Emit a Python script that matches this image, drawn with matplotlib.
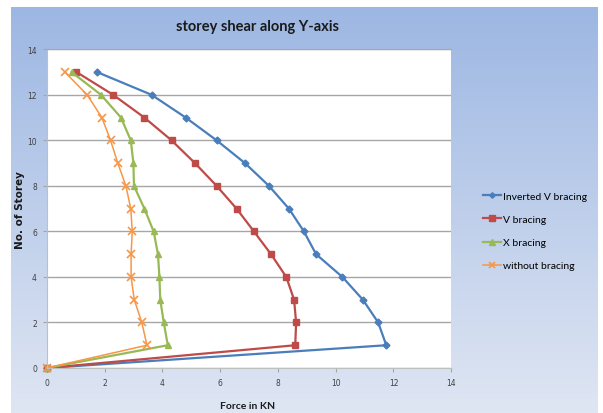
import numpy as np
import matplotlib
matplotlib.use('Agg')
import matplotlib.pyplot as plt

# storey numbers and storey shear (kN) for each bracing type
storey = [13, 12, 11, 10, 9, 8, 7, 6, 5, 4, 3, 2, 1, 0]
inv_v = [1.74, 3.63, 4.81, 5.88, 6.86, 7.69, 8.38, 8.90, 9.32, 10.23, 10.94, 11.47, 11.75, 0]
v_br = [1.03, 2.30, 3.38, 4.32, 5.13, 5.88, 6.57, 7.17, 7.76, 8.29, 8.56, 8.63, 8.60, 0]
x_br = [0.86, 1.88, 2.57, 2.91, 3.00, 3.02, 3.38, 3.70, 3.85, 3.90, 3.93, 4.05, 4.19, 0]
no_br = [0.63, 1.40, 1.91, 2.21, 2.46, 2.74, 2.91, 2.96, 2.92, 2.92, 3.03, 3.29, 3.47, 0]
labels = ['Inverted V bracing', 'V bracing', 'X bracing', 'without bracing']

fig = plt.figure(figsize=(6.03, 4.14), dpi=100)

# gradient chart background
bg = fig.add_axes([11/603, 0, (598-11)/603, (414-8)/414])
grad = np.linspace(0, 1, 256).reshape(-1, 1)
top = np.array([0.615, 0.718, 0.890])
bot = np.array([0.875, 0.902, 0.953])
img = top + (bot - top) * grad[:, :, None]
bg.imshow(img, aspect='auto', extent=[0, 1, 0, 1])
bg.axis('off')

ax = fig.add_axes([46.7/603, (414-369)/414, (451.3-46.7)/603, (369-50.3)/414])
ax.set_facecolor('white')

ax.plot(inv_v, storey, color='#4a7ebb', lw=1.6, marker='D', ms=3.5, label=labels[0], clip_on=False)
ax.plot(v_br, storey, color='#be4b48', lw=1.6, marker='s', ms=5, label=labels[1], clip_on=False)
ax.plot(x_br, storey, color='#98b954', lw=1.6, marker='^', ms=5, label=labels[2], clip_on=False)
ax.plot(no_br, storey, color='#f79646', lw=1.1, marker='x', ms=5.5, mew=1.2, label=labels[3], clip_on=False)

ax.set_xlim(0, 14)
ax.set_ylim(0, 14)
ax.set_xticks(range(0, 15, 2))
ax.set_yticks(range(0, 15, 2))
ax.grid(axis='y', color='#a6a6a6', lw=1)
ax.set_axisbelow(True)
ax.spines['right'].set_visible(False)
ax.spines['top'].set_color('#a6a6a6')
ax.spines['left'].set_color('#bfbfbf')
ax.spines['bottom'].set_color('#bfbfbf')
ax.tick_params(labelsize=5.5, colors='#404040', length=3, width=0.8, pad=4)
ax.tick_params(axis='both', color='#a6a6a6')

fig.text(258/603, 1 - 27/414, 'storey shear along Y-axis', ha='center', va='center',
         fontsize=10.5, fontweight='bold', family='Lato', color='#1a1a1a')
fig.text(248/603, 1 - 407/414, 'Force in KN', ha='center', va='center',
         fontsize=7.5, fontweight='bold', family='Lato', color='#1a1a1a')
fig.text(20/603, 1 - 210/414, 'No. of Storey', ha='center', va='center', rotation=90,
         fontsize=7.5, fontweight='bold', color='#1a1a1a')

leg = fig.legend(loc='center left', bbox_to_anchor=(474/603, 1 - 232/414), frameon=False,
                 prop={'family': 'Lato', 'size': 7.5}, handlelength=1.7, handletextpad=0.15,
                 labelspacing=1.32, markerscale=0.8)

fig.savefig('out.png', dpi=100)
